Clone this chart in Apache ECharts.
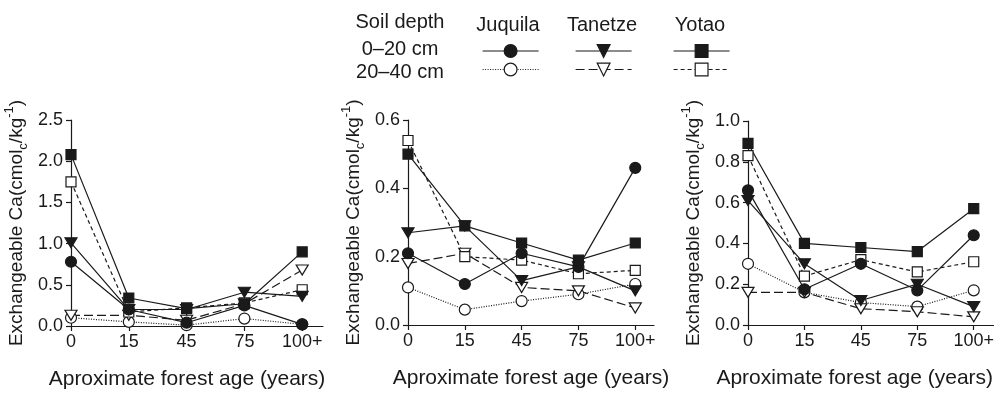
<!DOCTYPE html>
<html>
<head>
<meta charset="utf-8">
<script src="https://cdn.jsdelivr.net/npm/echarts@6/dist/echarts.min.js"></script>
<style>
  html, body { margin: 0; padding: 0; background: #fff; }
  #chart { width: 997px; height: 395px; }
</style>
</head>
<body>
<div id="chart"></div>
<script>
// forest age classes
const categories = ['0', '15', '45', '75', '100+']
const sites = ['Juquila', 'Tanetze', 'Yotao']
const depths = ['0–20 cm', '20–40 cm']

// panel 1
const p1Juquila0 = [0.78, 0.20, 0.04, 0.25, 0.02]
const p1Juquila20 = [0.10, 0.05, 0.01, 0.09, 0.02]
const p1Tanetze0 = [1.01, 0.20, 0.20, 0.41, 0.36]
const p1Tanetze20 = [0.13, 0.13, 0.07, 0.27, 0.68]
const p1Yotao0 = [2.08, 0.34, 0.21, 0.27, 0.90]
const p1Yotao20 = [1.75, 0.17, 0.22, 0.28, 0.44]

// panel 2
const p2Juquila0 = [0.21, 0.12, 0.21, 0.17, 0.46]
const p2Juquila20 = [0.11, 0.045, 0.07, 0.09, 0.12]
const p2Tanetze0 = [0.27, 0.29, 0.13, 0.17, 0.10]
const p2Tanetze20 = [0.18, 0.21, 0.11, 0.10, 0.05]
const p2Yotao0 = [0.50, 0.29, 0.24, 0.19, 0.24]
const p2Yotao20 = [0.54, 0.20, 0.19, 0.15, 0.16]

// panel 3
const p3Juquila0 = [0.66, 0.175, 0.30, 0.17, 0.44]
const p3Juquila20 = [0.30, 0.16, 0.11, 0.09, 0.17]
const p3Tanetze0 = [0.61, 0.30, 0.12, 0.20, 0.09]
const p3Tanetze20 = [0.16, 0.16, 0.08, 0.065, 0.04]
const p3Yotao0 = [0.89, 0.40, 0.38, 0.36, 0.57]
const p3Yotao20 = [0.83, 0.24, 0.32, 0.26, 0.31]

// y axis ranges per panel
const yMax = [2.5, 0.6, 1.0]
const yStep = [0.5, 0.2, 0.2]

const panels = [
  [p1Juquila0, p1Juquila20, p1Tanetze0, p1Tanetze20, p1Yotao0, p1Yotao20],
  [p2Juquila0, p2Juquila20, p2Tanetze0, p2Tanetze20, p2Yotao0, p2Yotao20],
  [p3Juquila0, p3Juquila20, p3Tanetze0, p3Tanetze20, p3Yotao0, p3Yotao20],
]

const FONT = 'Liberation Sans, Arial, sans-serif'
const INK = '#1a1a1a'
const DOWN_TRI = 'path://M0,0L12,0L6,10Z'

// marker + line look of each site/depth
const looks = [
  { symbol: 'circle', size: 11, fill: INK, dash: 'solid' },
  { symbol: 'circle', size: 11, fill: '#fff', dash: [1, 1.5] },
  { symbol: DOWN_TRI, size: [12, 10], fill: INK, dash: 'solid' },
  { symbol: DOWN_TRI, size: [12, 10], fill: '#fff', dash: [9, 4] },
  { symbol: 'rect', size: 10, fill: INK, dash: 'solid' },
  { symbol: 'rect', size: 10, fill: '#fff', dash: [4, 3] },
]

const gridBox = [
  { left: 71, top: 120, width: 252, height: 206 },
  { left: 408, top: 120, width: 246, height: 205 },
  { left: 748, top: 121, width: 247, height: 204 },
]
const xMax = [4.36, 4.33, 4.35]
const xNamePad = [[0, 20, 0, 0], [0, 0, 0, 0], [0, 32, 0, 0]]

const seriesName = i => sites[Math.floor(i / 2)] + ' ' + depths[i % 2]

const chart = echarts.init(document.getElementById('chart'))

const series = []
panels.forEach((sets, p) => {
  // hollow (20-40) sets drawn first so filled markers sit on top
  const order = [1, 3, 5, 0, 2, 4]
  order.forEach(k => {
    const look = looks[k]
    series.push({
      name: seriesName(k),
      type: 'line',
      xAxisIndex: p,
      yAxisIndex: p,
      data: sets[k].map((v, i) => [i, v]),
      symbol: look.symbol,
      symbolSize: look.size,
      showSymbol: true,
      clip: false,
      lineStyle: { color: INK, width: 1.2, type: look.dash },
      itemStyle: { color: look.fill, borderColor: INK, borderWidth: 1.2 },
      emphasis: { disabled: true },
    })
  })
})

const option = {
  animation: false,
  backgroundColor: '#fff',
  textStyle: { fontFamily: FONT, color: INK },
  grid: gridBox,
  xAxis: gridBox.map((g, p) => ({
    type: 'value',
    gridIndex: p,
    min: 0,
    max: xMax[p],
    interval: 1,
    splitLine: { show: false },
    axisLine: { lineStyle: { color: INK, width: 1.2 } },
    axisTick: { show: true, length: 5, inside: false, customValues: [0, 1, 2, 3, 4], lineStyle: { color: INK, width: 1.2 } },
    axisLabel: {
      customValues: [0, 1, 2, 3, 4],
      formatter: v => categories[v] ?? '',
      fontSize: 18, color: INK, fontFamily: FONT, margin: 7,
    },
    name: 'Aproximate forest age (years)',
    nameLocation: 'middle',
    nameGap: 43,
    nameTextStyle: { fontSize: 21, color: INK, fontFamily: FONT, padding: xNamePad[p], verticalAlign: 'top' },
  })),
  yAxis: gridBox.map((g, p) => ({
    type: 'value',
    gridIndex: p,
    min: 0,
    max: yMax[p],
    interval: yStep[p],
    splitLine: { show: false },
    axisLine: { show: true, lineStyle: { color: INK, width: 1.2 } },
    axisTick: { show: true, length: 5, inside: false, lineStyle: { color: INK, width: 1.2 } },
    axisLabel: { formatter: v => v.toFixed(1), fontSize: 18, color: INK, fontFamily: FONT, margin: 8 },
    name: '{a|Exchangeable Ca(cmol}{sub|c}{a|/kg}{sup|-1}{a|)}',
    nameLocation: 'middle',
    nameRotate: 90,
    nameGap: 41,
    nameTextStyle: {
      fontFamily: FONT,
      rich: {
        a: { fontSize: 19, lineHeight: 27, color: INK, fontFamily: FONT },
        sub: { fontSize: 13, lineHeight: 13, verticalAlign: 'bottom', color: INK, fontFamily: FONT },
        sup: { fontSize: 13, lineHeight: 13, verticalAlign: 'top', color: INK, fontFamily: FONT },
      },
    },
  })),
  legend: sites.map((s, i) => ({
    data: [s + ' ' + depths[0], s + ' ' + depths[1]],
    orient: 'vertical',
    left: [482, 575, 673][i],
    top: 43,
    itemWidth: 56,
    itemHeight: 16,
    itemGap: 3.5,
    padding: 0,
    selectedMode: false,
    formatter: () => '',
    lineStyle: { width: 1.2 },
    itemStyle: { borderWidth: 1.2 },
  })),
  graphic: [
    { type: 'text', x: 400, y: 22, style: { text: 'Soil depth', font: '20px ' + FONT, fill: INK, align: 'center', verticalAlign: 'middle' } },
    { type: 'text', x: 400, y: 49, style: { text: depths[0], font: '20px ' + FONT, fill: INK, align: 'center', verticalAlign: 'middle' } },
    { type: 'text', x: 400, y: 72, style: { text: depths[1], font: '20px ' + FONT, fill: INK, align: 'center', verticalAlign: 'middle' } },
    ...sites.map((s, i) => ({
      type: 'text', x: [508, 602, 700][i], y: 25,
      style: { text: s, font: '20px ' + FONT, fill: INK, align: 'center', verticalAlign: 'middle' },
    })),
  ],
  series,
}

chart.setOption(option)
</script>
</body>
</html>
